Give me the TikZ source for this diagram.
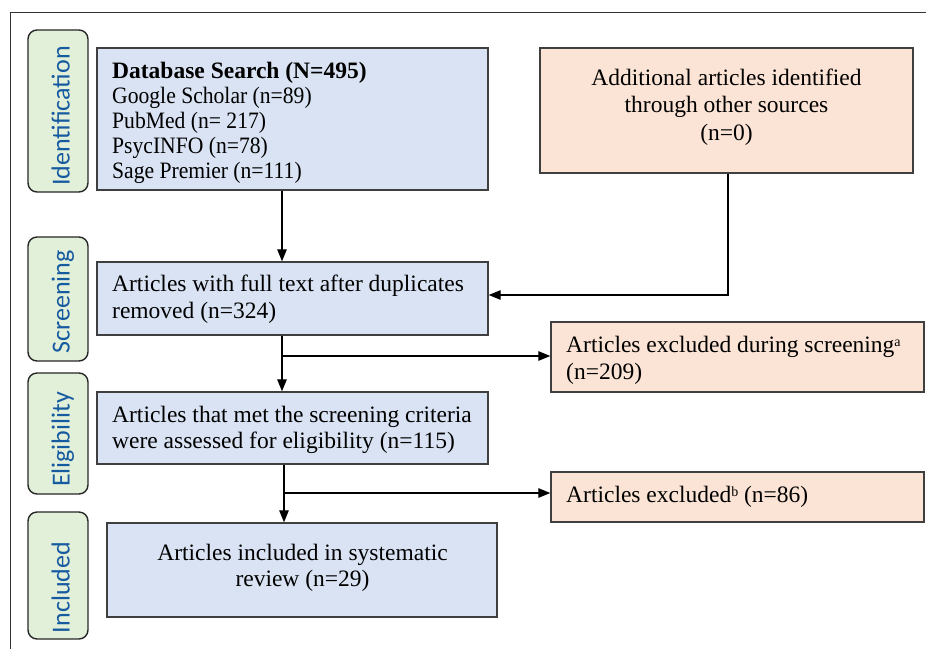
\documentclass[tikz,border=0pt]{standalone}
\usepackage{fontspec}
\setmainfont{Liberation Serif}
\newfontfamily\condfont{Liberation Serif}[FakeStretch=0.92]
\newfontfamily\labfont{Carlito}
\usetikzlibrary{arrows.meta}
\definecolor{bluefill}{HTML}{D9E3F3}
\definecolor{orangefill}{HTML}{FBE4D5}
\definecolor{greenfill}{HTML}{E2F0D9}
\definecolor{labtext}{RGB}{22,90,160}
\definecolor{boxline}{HTML}{3F3F3F}
\newcommand\firststrut{\rule{0pt}{18pt}}
\newcommand\smallsup[1]{\raisebox{6pt}{\fontsize{14}{14}\selectfont #1}}
\tikzset{
  x=1pt,y=-1pt,
  boxbase/.style={draw=boxline, line width=1.4pt, inner sep=0pt},
  bluebox/.style={boxbase, fill=bluefill},
  orangebox/.style={boxbase, fill=orangefill},
  boxtext/.style={inner sep=0pt, font=\fontsize{23.5}{#1}\selectfont},
  boxtext/.default={26.5},
  stagebox/.style={draw=black!85, line width=1.4pt, fill=greenfill, rounded corners=9pt,
    minimum width=60pt, inner sep=0pt},
  stagetext/.style={rotate=90, anchor=base, inner sep=0pt, text=labtext,
    font=\labfont\fontsize{26}{30}\selectfont},
  arr/.style={line width=1.2pt, -{Triangle[length=12pt,width=9.5pt]}},
}
\begin{document}
\begin{tikzpicture}
\useasboundingbox (0,0) rectangle (926,649);
% frame
\draw[line width=1pt, black!80] (926,12) -- (10,12) -- (10,649);

% stage labels
\node[stagebox, minimum height=162pt] (lid) at (58,111) {};
\node[stagebox, minimum height=124pt] (lsc) at (58,299) {};
\node[stagebox, minimum height=121pt] (lel) at (58,433.5) {};
\node[stagebox, minimum height=127pt] (lin) at (58,575.5) {};
\node[stagetext] (tid) at (69.5,116) {Identification};
\node[stagetext] (tsc) at (69.5,302) {Screening};
\node[stagetext] (tel) at (69.5,439.5) {Eligibility};
\node[stagetext] (tin) at (69.5,587.5) {Included};

% boxes
\node[bluebox, minimum width=391pt, minimum height=142pt] (db) at (292.5,119) {};
\node[orangebox, minimum width=373pt, minimum height=125pt] (add) at (726.5,110.5) {};
\node[bluebox, minimum width=391pt, minimum height=73pt] (ft) at (292.5,298.5) {};
\node[orangebox, minimum width=373pt, minimum height=70pt] (ex1) at (737.5,357) {};
\node[bluebox, minimum width=391pt, minimum height=72pt] (el) at (292.5,428) {};
\node[orangebox, minimum width=373pt, minimum height=50pt] (ex2) at (737.5,497) {};
\node[bluebox, minimum width=390pt, minimum height=94pt] (inc) at (302,570) {};

% box texts
\node[boxtext=25, anchor=north west, align=left] (dbt) at (112,60)
  {\firststrut\textbf{Database Search (N=495)}\\{\condfont Google Scholar (n=89)}\\{\condfont PubMed (n= 217)}\\{\condfont PsycINFO (n=78)}\\{\condfont Sage Premier (n=111)}};
\node[boxtext=27.5, anchor=north, align=center] (addt) at (726.5,67)
  {\firststrut Additional articles identified\\through other sources\\(n=0)};
\node[boxtext=27, anchor=north west, align=left] (ftt) at (112,273)
  {\firststrut Articles with full text after duplicates\\removed (n=324)};
\node[boxtext=27, anchor=north west, align=left] (ex1t) at (566,334)
  {\firststrut Articles excluded during screening\smallsup{a}\\(n=209)};
\node[boxtext=26, anchor=north west, align=left] (elt) at (112,404)
  {\firststrut Articles that met the screening criteria\\were assessed for eligibility (n=115)};
\node[boxtext, anchor=north west, align=left] (ex2t) at (566,484)
  {\firststrut Articles excluded\smallsup{b} (n=86)};
\node[boxtext=26.5, anchor=north, align=center] (inct) at (302.5,542)
  {\firststrut Articles included in systematic\\review (n=29)};

% connectors
\coordinate (b1) at (282,356);
\coordinate (b2) at (284,493);
\draw[arr] ([xshift=-10.5pt]db.south) -- ([xshift=-10.5pt]ft.north);
\draw[arr] ([xshift=1.5pt]add.south) |- ([yshift=3.5pt]ft.east);
\draw[arr] ([xshift=-10.5pt]ft.south) -- ([xshift=-10.5pt]el.north);
\draw[arr] (b1) -- (b1 -| ex1.west);
\draw[arr] ([xshift=-8.5pt]el.south) -- ([xshift=-8.5pt]el.south |- inc.north);
\draw[arr] (b2) -- (b2 -| ex2.west);
\end{tikzpicture}
\end{document}
